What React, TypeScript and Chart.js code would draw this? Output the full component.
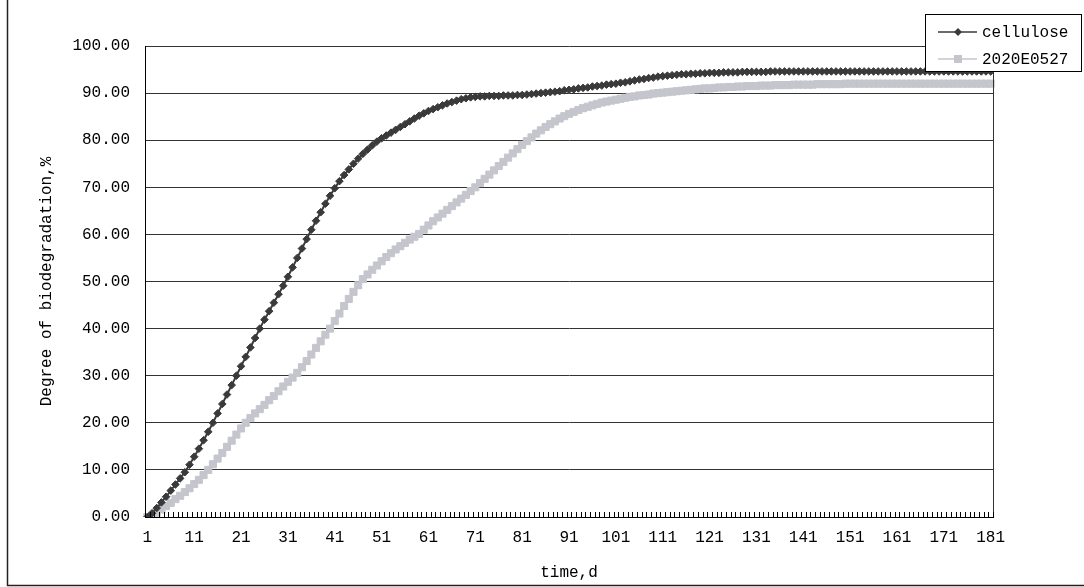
import React, { useEffect, useRef } from 'react';
import { Chart, registerables } from 'chart.js';

Chart.register(...registerables);

// Day labels 1..181
const days: string[] = Array.from({ length: 181 }, (_, i) => String(i + 1));

const seriesNames = ['cellulose', '2020E0527'];

const yTicks = [0, 10, 20, 30, 40, 50, 60, 70, 80, 90, 100];

const cellulose: number[] = [
  0, 0.8, 1.9, 3.1, 4.3, 5.6, 6.9, 8.2, 9.5, 11.1,
  12.8, 14.5, 16.3, 18.1, 20.0, 22.0, 24.0, 26.0, 28.0, 30.0,
  32.0, 34.0, 36.0, 38.0, 40.0, 41.9, 43.7, 45.5, 47.3, 49.1,
  51.0, 53.0, 55.0, 57.0, 59.0, 61.0, 62.9, 64.7, 66.5, 68.2,
  69.8, 71.3, 72.6, 73.8, 75.0, 76.1, 77.1, 78.0, 78.9, 79.7,
  80.4, 81.0, 81.6, 82.2, 82.8, 83.4, 84.0, 84.6, 85.2, 85.7,
  86.2, 86.6, 87.0, 87.4, 87.8, 88.1, 88.4, 88.7, 88.9, 89.1,
  89.2, 89.3, 89.3, 89.4, 89.4, 89.4, 89.5, 89.5, 89.5, 89.6,
  89.6, 89.7, 89.8, 89.9, 90.0, 90.1, 90.2, 90.3, 90.4, 90.6,
  90.7, 90.8, 91.0, 91.1, 91.2, 91.4, 91.5, 91.6, 91.8, 91.9,
  92.0, 92.2, 92.3, 92.5, 92.7, 92.9, 93.0, 93.2, 93.3, 93.5,
  93.6, 93.7, 93.8, 93.9, 94.0, 94.0, 94.1, 94.1, 94.2, 94.2,
  94.3, 94.3, 94.3, 94.4, 94.4, 94.4, 94.4, 94.5, 94.5, 94.5,
  94.5, 94.5, 94.5, 94.6, 94.6, 94.6, 94.6, 94.6, 94.6, 94.6,
  94.6, 94.6, 94.6, 94.6, 94.6, 94.6, 94.6, 94.6, 94.6, 94.6,
  94.6, 94.6, 94.6, 94.6, 94.6, 94.6, 94.6, 94.6, 94.6, 94.6,
  94.6, 94.6, 94.6, 94.6, 94.6, 94.6, 94.6, 94.6, 94.6, 94.6,
  94.6, 94.6, 94.6, 94.6, 94.6, 94.6, 94.6, 94.6, 94.6, 94.6,
  94.6,
];

const sample2020E0527: number[] = [
  0, 0.3, 0.9, 1.6, 2.3, 3.0, 3.8, 4.5, 5.3, 6.1,
  7.0, 7.9, 8.9, 10.0, 11.2, 12.4, 13.6, 14.9, 16.2, 17.5,
  18.8, 20.0, 21.0, 22.0, 22.9, 23.8, 24.8, 25.7, 26.7, 27.7,
  28.7, 29.6, 30.6, 31.8, 33.1, 34.5, 35.9, 37.3, 38.7, 40.0,
  41.6, 43.2, 44.8, 46.3, 47.8, 49.2, 50.5, 51.5, 52.5, 53.4,
  54.3, 55.2, 56.0, 56.8, 57.5, 58.2, 58.9, 59.5, 60.1, 61.0,
  61.9, 62.8, 63.6, 64.4, 65.2, 66.0, 66.8, 67.6, 68.4, 69.2,
  70.0, 70.9, 71.8, 72.7, 73.6, 74.5, 75.4, 76.3, 77.2, 78.1,
  79.0, 79.8, 80.6, 81.4, 82.1, 82.8, 83.4, 84.0, 84.6, 85.1,
  85.6, 86.0, 86.4, 86.8, 87.1, 87.4, 87.7, 88.0, 88.2, 88.4,
  88.6, 88.8, 89.0, 89.2, 89.3, 89.5, 89.6, 89.7, 89.9, 90.0,
  90.1, 90.2, 90.3, 90.4, 90.5, 90.6, 90.7, 90.8, 90.9, 91.0,
  91.0, 91.1, 91.2, 91.2, 91.3, 91.3, 91.4, 91.4, 91.5, 91.5,
  91.5, 91.6, 91.6, 91.6, 91.7, 91.7, 91.7, 91.7, 91.8, 91.8,
  91.8, 91.8, 91.8, 91.9, 91.9, 91.9, 91.9, 91.9, 91.9, 92.0,
  92.0, 92.0, 92.0, 92.0, 92.0, 92.0, 92.0, 92.0, 92.0, 92.0,
  92.0, 92.0, 92.0, 92.0, 92.0, 92.0, 92.0, 92.0, 92.0, 92.0,
  92.0, 92.0, 92.0, 92.0, 92.0, 92.0, 92.0, 92.0, 92.0, 92.0,
  92.0,
];

const FONT_FAMILY = '"Liberation Mono", "DejaVu Sans Mono", monospace';
const DARK = '#3a3a3a';
const LIGHT = '#c5c5cd';

const decorPlugin = {
  id: 'decor',
  beforeDraw(chart: any) {
    const { ctx, width, height } = chart;
    ctx.save();
    ctx.fillStyle = '#ffffff';
    ctx.fillRect(0, 0, width, height);
    ctx.restore();
  },
  afterDraw(chart: any) {
    const { ctx, chartArea } = chart;
    const xs = chart.scales.x;
    ctx.save();
    // plot-area right border
    ctx.strokeStyle = '#333';
    ctx.lineWidth = 1;
    ctx.beginPath();
    const rx = Math.round(chartArea.right) + 0.5;
    ctx.moveTo(rx, chartArea.top);
    ctx.lineTo(rx, chartArea.bottom);
    ctx.stroke();
    // inside tick marks between categories
    ctx.strokeStyle = '#000';
    ctx.beginPath();
    for (let i = 0; i <= days.length; i++) {
      const x = Math.round(xs.getPixelForValue(i - 0.5)) + 0.5;
      ctx.moveTo(x, chartArea.bottom);
      ctx.lineTo(x, chartArea.bottom - 5);
    }
    ctx.stroke();
    // outer chart border (left and bottom visible)
    ctx.strokeStyle = '#222';
    ctx.lineWidth = 1.5;
    ctx.beginPath();
    ctx.moveTo(7.5, 0);
    ctx.lineTo(7.5, 585.5);
    ctx.lineTo(chart.width, 585.5);
    ctx.stroke();

    // legend
    const lx = 925, ly = 14, lw = 156, lh = 57;
    ctx.fillStyle = '#fff';
    ctx.fillRect(lx, ly, lw, lh);
    ctx.strokeStyle = '#000';
    ctx.lineWidth = 1;
    ctx.strokeRect(lx + 0.5, ly + 0.5, lw, lh);
    const rows = [32, 59];
    chart.data.datasets.forEach((ds: any, i: number) => {
      const y = rows[i];
      ctx.strokeStyle = ds.borderColor;
      ctx.lineWidth = 1.5;
      ctx.beginPath();
      ctx.moveTo(938, y);
      ctx.lineTo(977, y);
      ctx.stroke();
      ctx.fillStyle = ds.pointBackgroundColor;
      ctx.beginPath();
      if (ds.pointStyle === 'rectRot') {
        ctx.moveTo(958, y - 4);
        ctx.lineTo(962, y);
        ctx.lineTo(958, y + 4);
        ctx.lineTo(954, y);
        ctx.closePath();
      } else {
        ctx.rect(954, y - 4, 8, 8);
      }
      ctx.fill();
      ctx.fillStyle = '#000';
      ctx.font = `16px ${FONT_FAMILY}`;
      ctx.textBaseline = 'middle';
      ctx.textAlign = 'left';
      ctx.fillText(ds.label, 982, y + 1);
    });
    ctx.restore();
  },
};

export default function App() {
  const ref = useRef<HTMLCanvasElement>(null);
  useEffect(() => {
    const font = { family: FONT_FAMILY, size: 16 };
    const chart = new Chart(ref.current!, {
      type: 'line',
      data: {
        labels: days,
        datasets: [
          {
            label: seriesNames[0],
            data: cellulose,
            borderColor: DARK,
            backgroundColor: DARK,
            pointBackgroundColor: DARK,
            pointBorderColor: DARK,
            pointStyle: 'rectRot',
            pointRadius: 3.8,
            pointBorderWidth: 1,
            borderWidth: 2,
            tension: 0,
          },
          {
            label: seriesNames[1],
            data: sample2020E0527,
            borderColor: LIGHT,
            backgroundColor: LIGHT,
            pointBackgroundColor: LIGHT,
            pointBorderColor: LIGHT,
            pointStyle: 'rect',
            pointRadius: 5,
            pointBorderWidth: 1,
            borderWidth: 3,
            tension: 0,
          },
        ],
      },
      options: {
        responsive: false,
        animation: false,
        layout: { padding: { left: 0, right: 91, top: 46, bottom: 0 } },
        plugins: { legend: { display: false }, tooltip: { enabled: false } },
        scales: {
          x: {
            type: 'category',
            offset: true,
            grid: { display: false, drawTicks: false },
            border: { display: true, color: '#000', width: 1 },
            ticks: {
              autoSkip: false,
              maxRotation: 0,
              minRotation: 0,
              padding: 11,
              color: '#000',
              font,
              callback: (_v: any, i: number) => (i % 10 === 0 ? days[i] : ''),
            },
            title: {
              display: true,
              text: 'time,d',
              color: '#000',
              font,
              padding: { top: 0, bottom: 5 },
            },
            afterFit: (s: any) => {
              s.height = 70;
            },
          },
          y: {
            min: 0,
            max: 100,
            afterBuildTicks: (s: any) => {
              s.ticks = yTicks.map((v) => ({ value: v }));
            },
            ticks: {
              color: '#000',
              font,
              padding: 15,
              callback: (v: any) => Number(v).toFixed(2),
            },
            grid: { color: '#333', lineWidth: 1, drawTicks: false },
            border: { display: true, color: '#000', width: 1 },
            title: {
              display: true,
              text: 'Degree of biodegradation,%',
              color: '#000',
              font,
              padding: { top: 37, bottom: 0 },
            },
            afterFit: (s: any) => {
              s.width = 145;
            },
          },
        },
      },
      plugins: [decorPlugin],
    } as any);
    return () => chart.destroy();
  }, []);
  return (
    <div style={{ position: 'fixed', left: 0, top: 0, width: 1084, height: 587, background: '#fff' }}>
      <canvas ref={ref} width={1084} height={587} style={{ display: 'block', width: 1084, height: 587 }} />
    </div>
  );
}
